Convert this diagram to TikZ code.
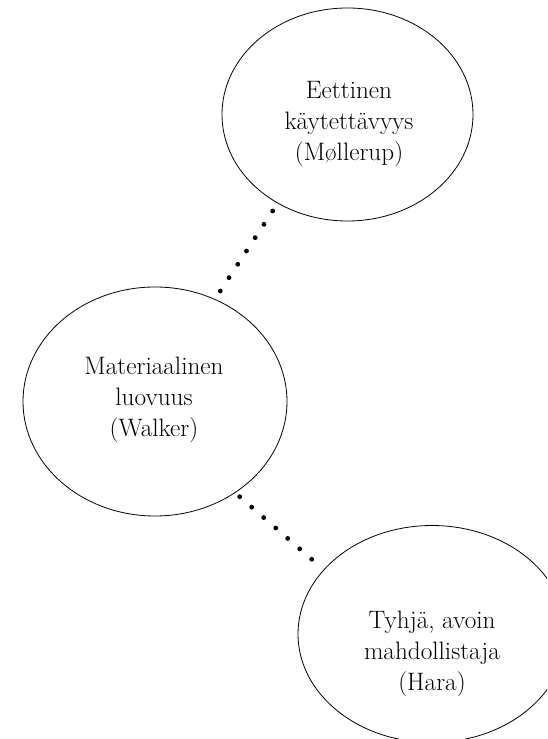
\documentclass[tikz,border=0pt]{standalone}
\usepackage{fontspec}
\usetikzlibrary{shapes.geometric,calc}
\begin{document}
\begin{tikzpicture}[x=1pt,y=1pt,
  bubble/.style={draw=black,line width=0.8pt,ellipse,inner sep=0pt},
  lbl/.style={align=center,inner sep=0pt,font=\fontsize{25.2}{31}\selectfont},
  dotfill/.style={fill=black}]
\useasboundingbox (0,0) rectangle (547,739);
\clip (0,0) rectangle (547,739);
% ellipses
\node[bubble,minimum width=251pt,minimum height=213pt] (top) at (347.5,624.5) {};
\node[bubble,minimum width=264pt,minimum height=229pt] (mid) at (155,337.5) {};
\node[bubble,minimum width=268pt,minimum height=217pt] (bot) at (432,105) {};
% texts
\node[lbl] (toptext) at (349,615) {Eettinen\\käytettävyys\\(Møllerup)};
\node[lbl] (midtext) at (154,339) {Materiaalinen\\luovuus\\(Walker)};
\node[lbl] (bottext) at (432,85) {Tyhjä, avoin\\mahdollistaja\\(Hara)};
% dotted connectors
\coordinate (c1a) at (272.7,528);
\coordinate (c1b) at (220.3,448);
\coordinate (c2a) at (239.7,242.3);
\coordinate (c2b) at (311.7,179.7);
\foreach \t in {0,...,6} {
  \fill[dotfill] ($(c1a)!\t/6!(c1b)$) circle (2.4pt);
  \fill[dotfill] ($(c2a)!\t/6!(c2b)$) circle (2.4pt);
}
\end{tikzpicture}
\end{document}
